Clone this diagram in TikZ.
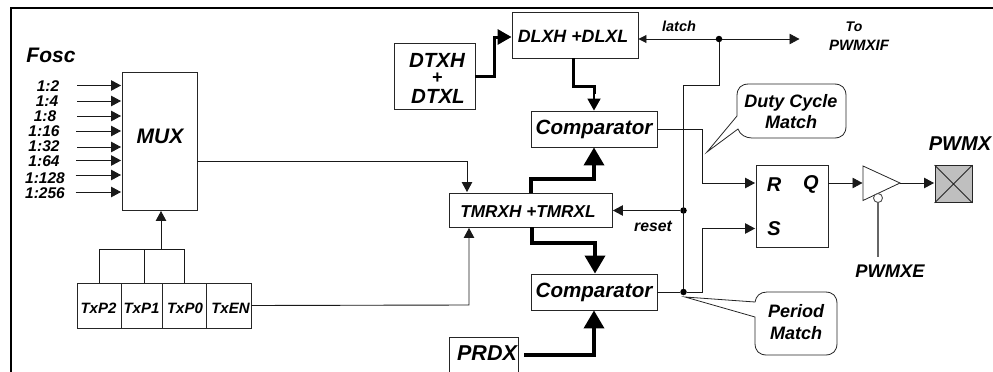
\documentclass[tikz,border=0pt]{standalone}
\usepackage{fontspec}
\setmainfont{Liberation Sans}
\usetikzlibrary{arrows.meta,calc}
\newcommand{\fsz}[2]{\fontsize{#1}{#2}\selectfont\bfseries\itshape}
\tikzset{
  box/.style={draw=black!85,line width=0.9pt,inner sep=0pt,fill=white,align=center},
  lbl/.style={inner sep=0pt,align=center},
  wire/.style={draw=black!90,line width=0.9pt},
  arr/.style={wire,-{Triangle[length=10pt,width=10.5pt]},shorten >=0.5pt},
  thin arr/.style={wire,-{Triangle[length=8pt,width=8pt]}},
  busa/.style={draw=black,line width=3pt,-{Triangle[length=14pt,width=15pt]}},
  busb/.style={draw=black,line width=3.6pt,-{Triangle[length=18pt,width=20pt]}},
  dot/.style={circle,fill=black,inner sep=0pt,minimum size=6.5pt},
  callout box/.style={draw=black!85,line width=0.8pt,fill=white},
}
\begin{document}
\begin{tikzpicture}[x=1pt,y=-1pt]
\useasboundingbox (0,0) rectangle (993,372);
% frame
\draw[black,line width=2pt] (11,372) -- (11,7.5) -- (993,7.5);

% boxes
\node[box,minimum width=75pt,minimum height=138pt] (mux) at (159.5,141) {};
\node[lbl,font=\fsz{21}{21}] (muxt) at (160,136) {MUX};
\node[box,minimum width=44pt,minimum height=45pt] (p2) at (99,305.5) {};
\node[box,minimum width=41pt,minimum height=45pt] (p1) at (141.5,305.5) {};
\node[box,minimum width=44pt,minimum height=45pt] (p0) at (184,305.5) {};
\node[box,minimum width=45pt,minimum height=45pt] (en) at (228.5,305.5) {};
\node[lbl,font=\fsz{15}{15}] (p2t) at (98.5,308.5) {TxP2};
\node[lbl,font=\fsz{15}{15}] (p1t) at (141.5,308.5) {TxP1};
\node[lbl,font=\fsz{15}{15}] (p0t) at (185,308.5) {TxP0};
\node[lbl,font=\fsz{15}{15}] (ent) at (230.5,308.5) {TxEN};
\node[box,minimum width=81pt,minimum height=66pt] (dtx) at (434.5,76) {};
\node[lbl,font=\fsz{20.5}{21}] (dtxa) at (437,60.5) {DTXH};
\node[lbl,font=\fsz{18}{18}] (dtxb) at (437,78) {+};
\node[lbl,font=\fsz{20.5}{21}] (dtxc) at (438,96.5) {DTXL};
\node[box,minimum width=126pt,minimum height=46pt] (dlx) at (575,35) {};
\node[lbl,font=\fsz{17.8}{18}] (dlxt) at (573,36.5) {DLXH +DLXL};
\node[box,minimum width=126pt,minimum height=36pt,font=\fsz{20.6}{21}] (cmpa) at (594,129) {Comparator};
\node[box,minimum width=163pt,minimum height=34pt] (tmr) at (530.5,210) {};
\node[lbl,font=\fsz{17.2}{18}] (tmrt) at (528,212) {TMRXH +TMRXL};
\node[box,minimum width=126pt,minimum height=36pt,font=\fsz{20.6}{21}] (cmpb) at (594,292) {Comparator};
\node[box,minimum width=72pt,minimum height=82pt] (sr) at (792,206) {};
\node[box,fill=black!25,minimum width=37pt,minimum height=37pt] (pad) at (953.5,184) {};
\draw[draw=black!85,line width=0.8pt] (pad.north west) -- (pad.south east) (pad.north east) -- (pad.south west);
\node[lbl,font=\fsz{21.5}{22}] (prdx) at (487,353) {PRDX};
\draw[draw=black!85,line width=0.9pt] (449,372) -- (449,337) -- (518,337) -- (518,372);

% flip-flop pins and labels
\node[lbl,font=\fsz{20}{20}] (rl) at (774,184.5) {R};
\node[lbl,font=\fsz{20}{20}] (ql) at (811,184.5) {Q};
\node[lbl,font=\fsz{20}{20}] (sl) at (774,229) {S};

% texts
\node[lbl,font=\fsz{21}{21}] (fosc) at (51,55) {Fosc};
\node[lbl,font=\fsz{15.5}{16}] (t1) at (48,86) {1:2};
\node[lbl,font=\fsz{15.5}{16}] (t2) at (47,101) {1:4};
\node[lbl,font=\fsz{15.5}{16}] (t3) at (45,116) {1:8};
\node[lbl,font=\fsz{15.5}{16}] (t4) at (44,131) {1:16};
\node[lbl,font=\fsz{15.5}{16}] (t5) at (44,146) {1:32};
\node[lbl,font=\fsz{15.5}{16}] (t6) at (44,161) {1:64};
\node[lbl,font=\fsz{15.5}{16}] (t7) at (45,178) {1:128};
\node[lbl,font=\fsz{15.5}{16}] (t8) at (45,193) {1:256};
\node[lbl,font=\fsz{14.5}{15}] (latch) at (679,26) {latch};
\node[lbl,font=\fsz{15.8}{16}] (reset) at (653,226) {reset};
\node[lbl,font=\fsz{14}{15}] (to) at (854,26.5) {To};
\node[lbl,font=\fsz{15}{15}] (pif) at (859,45) {PWMXIF};
\node[lbl,font=\fsz{20}{21}] (pwmx) at (960,144) {PWMX};
\node[lbl,font=\fsz{18.3}{19}] (pwmxe) at (890,271) {PWMXE};

% clock inputs
\foreach \n/\y/\xs in {1/85.5/77,2/101/77,3/116/77,4/131/76,5/147/77,6/160.5/76,7/175/75.5,8/192/75.5}{
  \coordinate (in\n) at (\xs,\y);
  \draw[arr] (in\n) -- (in\n -| mux.west);
}

% prescaler select
\coordinate (selm) at (161,249);
\coordinate (sel2) at (99,249);
\coordinate (sel1) at (144,249);
\coordinate (sel0) at (184,249);
\draw[arr] (selm) -- (selm |- mux.south);
\draw[wire] (sel2 |- p2.north) -- (sel2) -- (sel0) -- (sel0 |- p0.north);
\draw[wire] (sel1) -- (sel1 |- p1.north);

% timer inputs
\coordinate (mxt) at (467,161);
\draw[arr] (mxt -| mux.east) -- (mxt) -- (mxt |- tmr.north);
\coordinate (enc) at (469,305);
\draw[arr] (en.east) -- (enc) -- (enc |- tmr.south);

% buses
\coordinate (da) at (494,76);
\coordinate (db) at (494,37);
\draw[busa] (dtx.east |- da) -- (da) -- (db) -- (db -| dlx.west);
\coordinate (la) at (573,86);
\coordinate (lb) at (594,86);
\draw[draw=black,line width=3pt] (la |- dlx.south) -- (la) -- (lb) -- ($(lb)+(0,8)$);
\draw[draw=black,line width=1.8pt,-{Triangle[length=12pt,width=13pt]}] ($(lb)+(0,6)$) -- (lb |- cmpa.north);
\coordinate (tu) at (531,179);
\coordinate (tv) at (594,179);
\draw[busb] (tu |- tmr.north) -- (tu) -- (tv) -- (tv |- cmpa.south);
\coordinate (tw) at (532,243);
\coordinate (tz) at (595,243);
\draw[busb] (tw |- tmr.south) -- (tw) -- (tz) -- (tz |- cmpb.north);
\coordinate (ps) at (524,355);
\coordinate (pt) at (594,355);
\draw[busb] (ps) -- (pt) -- (pt |- cmpb.south);

% control lines
\node[dot] (jl) at (719,39) {};
\node[dot] (jr) at (683.5,210.5) {};
\node[dot] (jp) at (683.5,292) {};
\coordinate (lto) at (800,39);
\coordinate (vb) at (683.5,85);
\coordinate (vc) at (719,85);
\draw[thin arr] (jl) -- (jl -| dlx.east);
\draw[arr] (jl) -- (lto);
\draw[wire] (jl) -- (vc) -- (vb) -- (jp);
\draw[arr] (jr) -- (jr -| tmr.east);
\draw[wire] (cmpb.east) -- (jp);
\coordinate (ra) at (702,129);
\coordinate (rb) at (702,183);
\draw[arr] (cmpa.east |- ra) -- (ra) -- (rb) -- (rb -| sr.west);
\coordinate (sa) at (702,292);
\coordinate (sb) at (702,228.5);
\draw[arr] (jp) -- (sa) -- (sb) -- (sb -| sr.west);

% output buffer
\coordinate (bufa) at (863,166);
\coordinate (bufb) at (900,183);
\coordinate (bufc) at (863,200.5);
\draw[draw=black!85,line width=0.8pt,fill=white] (bufa) -- (bufb) -- (bufc) -- cycle;
\node[circle,draw=black!70,line width=0.9pt,fill=white,inner sep=0pt,minimum size=9pt] (bub) at (878,198) {};
\coordinate (qo) at (828,183);
\draw[arr] (qo) -- (bufa |- qo);
\draw[arr] (bufb) -- (pad.west |- bufb);
\coordinate (en2) at (878,257);
\draw[draw=black!60,line width=1.3pt] (bub.south) -- (en2);

% callouts
\draw[callout box] (707,152) -- (738,129) .. controls (740,135) and (746,138) .. (752,138) -- (834,138) .. controls (842,138) and (846,134) .. (846,126) -- (846,96) .. controls (846,88) and (842,84) .. (834,84) -- (749,84) .. controls (741,84) and (737,88) .. (737,96) -- (737,116) -- cycle;
\node[lbl,font=\fsz{18}{21}] (duty) at (791,112) {Duty Cycle\\Match};
\draw[callout box] (685,297) -- (755,302) .. controls (756,296) and (760,292) .. (767,292) -- (825,292) .. controls (833,292) and (837,296) .. (837,304) -- (837,343) .. controls (837,351) and (833,355) .. (825,355) -- (767,355) .. controls (759,355) and (755,351) .. (755,343) -- (755,317) -- cycle;
\node[lbl,font=\fsz{18}{21.5}] (period) at (796,322) {Period\\Match};
\end{tikzpicture}
\end{document}
